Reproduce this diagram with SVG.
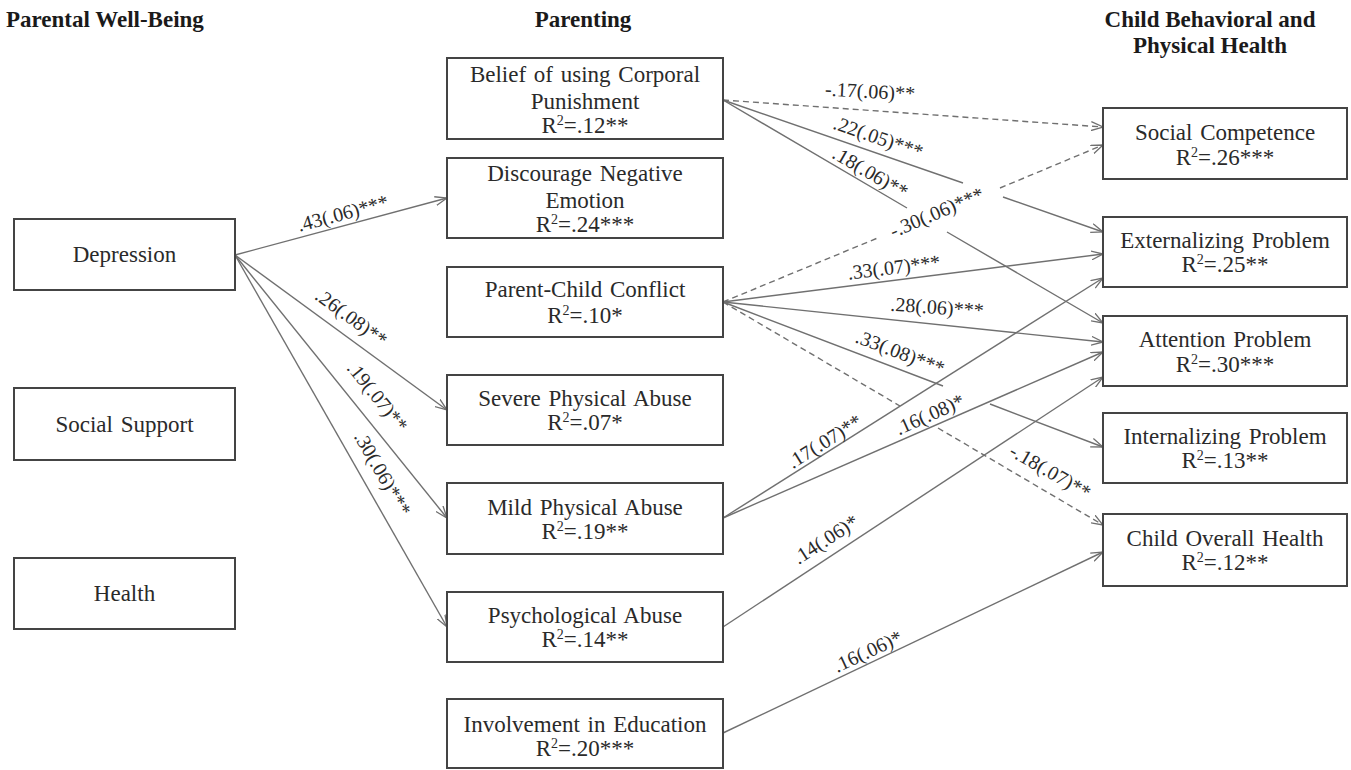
<svg xmlns="http://www.w3.org/2000/svg" width="1351" height="770" viewBox="0 0 1351 770">
<style>
.box{fill:#fff;stroke:#444;stroke-width:2}
.n{font-family:"Liberation Serif","Times New Roman",serif;font-size:23px;fill:#2a2a2a;text-anchor:middle;word-spacing:2px}
.h{font-family:"Liberation Serif","Times New Roman",serif;font-size:23px;font-weight:bold;fill:#1a1a1a}
.lb{font-family:"Liberation Serif","Times New Roman",serif;font-size:20px;fill:#2a2a2a;text-anchor:middle}
.c{fill:none;stroke:#707070;stroke-width:1.4;marker-end:url(#arr)}
.d{stroke-dasharray:6 4}
.sup{font-size:14px}
</style>
<defs>
<marker id="arr" viewBox="0 0 12 10" refX="12" refY="5" markerWidth="12" markerHeight="10" orient="auto" markerUnits="userSpaceOnUse">
<path d="M0,0.5 L12,5 L0,9.5" fill="none" stroke="#707070" stroke-width="1.3"/>
</marker>
</defs>
<rect width="1351" height="770" fill="#fff"/>

<g id="headers">
<text class="h" x="6" y="27">Parental Well-Being</text>
<text class="h" x="583" y="27" text-anchor="middle">Parenting</text>
<text class="h" x="1210" y="27" text-anchor="middle">Child Behavioral and</text>
<text class="h" x="1210" y="53" text-anchor="middle">Physical Health</text>
</g>

<g id="connectors">
<path class="c" d="M235,255 L447,198"/>
<path class="c" d="M235,255 L447,410"/>
<path class="c" d="M235,255 L447,518"/>
<path class="c" d="M235,255 L447,627"/>
<path class="c d" d="M723,100 L1103,127"/>
<path class="c" d="M723,100 L963,183 M1003,197 L1103,232"/>
<path class="c" d="M723,100 L907,208 M947,232 L1103,323"/>
<path class="c d" d="M723,302 L880,237 M1000,188 L1103,145"/>
<path class="c" d="M723,302 L1103,254"/>
<path class="c" d="M723,302 L1103,342"/>
<path class="c" d="M723,302 L943,386 M990,404 L1103,447"/>
<path class="c d" d="M723,302 L900,406 M938,428 L1103,525"/>
<path class="c" d="M723,518 L1103,278"/>
<path class="c" d="M723,518 L1103,352"/>
<path class="c" d="M723,627 L1103,377"/>
<path class="c" d="M723,733 L1103,552"/>
</g>

<g id="labels">
<text class="lb" transform="translate(343,214) rotate(-15)" y="6">.43(.06)***</text>
<text class="lb" transform="translate(351,318) rotate(36)" y="6">.26(.08)**</text>
<text class="lb" transform="translate(377,397) rotate(51)" y="6">.19(.07)**</text>
<text class="lb" transform="translate(382,474) rotate(60)" y="6">.30(.06)***</text>
<text class="lb" transform="translate(870,92) rotate(3)" y="6">-.17(.06)**</text>
<text class="lb" transform="translate(878,138) rotate(19)" y="6">.22(.05)***</text>
<text class="lb" transform="translate(870,173) rotate(30)" y="6">.18(.06)**</text>
<text class="lb" transform="translate(937,213) rotate(-23)" y="6">-.30(.06)***</text>
<text class="lb" transform="translate(894,268) rotate(-7)" y="6">.33(.07)***</text>
<text class="lb" transform="translate(937,308) rotate(4)" y="6">.28(.06)***</text>
<text class="lb" transform="translate(900,353) rotate(21)" y="6">.33(.08)***</text>
<text class="lb" transform="translate(1050,472) rotate(30)" y="6">-.18(.07)**</text>
<text class="lb" transform="translate(825,442) rotate(-32)" y="6">.17(.07)**</text>
<text class="lb" transform="translate(930,415) rotate(-24)" y="6">.16(.08)*</text>
<text class="lb" transform="translate(826,540) rotate(-33)" y="6">.14(.06)*</text>
<text class="lb" transform="translate(868,652) rotate(-25)" y="6">.16(.06)*</text>
</g>

<g id="depression">
<rect class="box" x="14" y="219" width="221" height="71"/>
<text class="n" x="124.5" y="262">Depression</text>
</g>
<g id="social-support">
<rect class="box" x="14" y="388" width="221" height="72"/>
<text class="n" x="124.5" y="432">Social Support</text>
</g>
<g id="health">
<rect class="box" x="14" y="558" width="221" height="71"/>
<text class="n" x="124.5" y="601">Health</text>
</g>

<g id="belief">
<rect class="box" x="447" y="58" width="276" height="81"/>
<text class="n" x="585" y="82">Belief of using Corporal</text>
<text class="n" x="585" y="109">Punishment</text>
<text class="n" x="585" y="133">R<tspan class="sup" dy="-8">2</tspan><tspan dy="8">=.12**</tspan></text>
</g>
<g id="discourage">
<rect class="box" x="447" y="158" width="276" height="80"/>
<text class="n" x="585" y="181">Discourage Negative</text>
<text class="n" x="585" y="208">Emotion</text>
<text class="n" x="585" y="232">R<tspan class="sup" dy="-8">2</tspan><tspan dy="8">=.24***</tspan></text>
</g>
<g id="parent-child">
<rect class="box" x="447" y="267" width="276" height="70"/>
<text class="n" x="585" y="297">Parent-Child Conflict</text>
<text class="n" x="585" y="323">R<tspan class="sup" dy="-8">2</tspan><tspan dy="8">=.10*</tspan></text>
</g>
<g id="severe">
<rect class="box" x="447" y="375" width="276" height="70"/>
<text class="n" x="585" y="406">Severe Physical Abuse</text>
<text class="n" x="585" y="430">R<tspan class="sup" dy="-8">2</tspan><tspan dy="8">=.07*</tspan></text>
</g>
<g id="mild">
<rect class="box" x="447" y="483" width="276" height="71"/>
<text class="n" x="585" y="515">Mild Physical Abuse</text>
<text class="n" x="585" y="539">R<tspan class="sup" dy="-8">2</tspan><tspan dy="8">=.19**</tspan></text>
</g>
<g id="psychological">
<rect class="box" x="447" y="592" width="276" height="70"/>
<text class="n" x="585" y="623">Psychological Abuse</text>
<text class="n" x="585" y="647">R<tspan class="sup" dy="-8">2</tspan><tspan dy="8">=.14**</tspan></text>
</g>
<g id="involvement">
<rect class="box" x="447" y="699" width="276" height="69"/>
<text class="n" x="585" y="732">Involvement in Education</text>
<text class="n" x="585" y="756">R<tspan class="sup" dy="-8">2</tspan><tspan dy="8">=.20***</tspan></text>
</g>

<g id="social-competence">
<rect class="box" x="1103" y="108" width="244" height="71"/>
<text class="n" x="1225" y="140">Social Competence</text>
<text class="n" x="1225" y="165">R<tspan class="sup" dy="-8">2</tspan><tspan dy="8">=.26***</tspan></text>
</g>
<g id="externalizing">
<rect class="box" x="1103" y="217" width="244" height="70"/>
<text class="n" x="1225" y="248">Externalizing Problem</text>
<text class="n" x="1225" y="272">R<tspan class="sup" dy="-8">2</tspan><tspan dy="8">=.25**</tspan></text>
</g>
<g id="attention">
<rect class="box" x="1103" y="316" width="244" height="70"/>
<text class="n" x="1225" y="347">Attention Problem</text>
<text class="n" x="1225" y="372">R<tspan class="sup" dy="-8">2</tspan><tspan dy="8">=.30***</tspan></text>
</g>
<g id="internalizing">
<rect class="box" x="1103" y="413" width="244" height="70"/>
<text class="n" x="1225" y="444">Internalizing Problem</text>
<text class="n" x="1225" y="468">R<tspan class="sup" dy="-8">2</tspan><tspan dy="8">=.13**</tspan></text>
</g>
<g id="child-health">
<rect class="box" x="1103" y="514" width="244" height="72"/>
<text class="n" x="1225" y="546">Child Overall Health</text>
<text class="n" x="1225" y="570">R<tspan class="sup" dy="-8">2</tspan><tspan dy="8">=.12**</tspan></text>
</g>
</svg>
